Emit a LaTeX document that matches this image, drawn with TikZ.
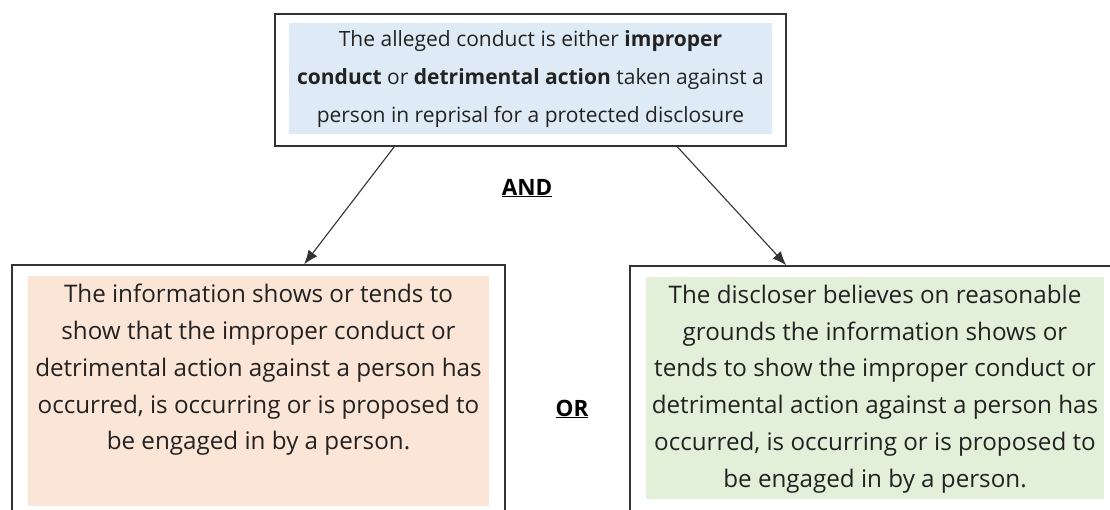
\documentclass[tikz,border=0pt]{standalone}
\usepackage{fontspec}
\setmainfont{Open Sans}
\usetikzlibrary{arrows.meta}
\definecolor{bluefill}{HTML}{DEEBF7}
\definecolor{redfill}{HTML}{FBE5D6}
\definecolor{greenfill}{HTML}{E2F0D9}
\definecolor{txt}{HTML}{222222}
\definecolor{edge}{HTML}{333333}
\tikzset{
  outerbox/.style={draw=edge, line width=1.5pt, fill=white, inner sep=0pt},
  fillbox/.style={inner sep=0pt, draw=none},
  bodytext/.style={inner sep=0pt, align=center, text=txt, font=\fontsize{24.2}{36.7}\selectfont},
  toptextstyle/.style={inner sep=0pt, align=center, text=txt, font=\fontsize{21}{38}\selectfont},
  conj/.style={inner sep=0pt, text=black, font=\fontsize{22.5}{24}\selectfont\bfseries},
  conn/.style={draw=edge, line width=1.1pt, -{Latex[length=14pt,width=11pt]}}
}
\begin{document}
\begin{tikzpicture}[x=1pt,y=-1pt]
\clip (0,0) rectangle (1110,510);
\fill[white] (0,0) rectangle (1110,510);
% top
\node[outerbox, minimum width=511pt, minimum height=132pt] (top) at (530.5,80) {};
\node[fillbox, fill=bluefill, minimum width=483pt, minimum height=111pt] (topfill) at (530.5,78.5) {};
\node[toptextstyle] (toptext) at (530.5,79) {The alleged conduct is either \textbf{improper}\\\textbf{conduct} or \textbf{detrimental action} taken against a\\person in reprisal for a protected disclosure};
% left
\node[outerbox, minimum width=493pt, minimum height=275pt] (left) at (258.5,402.5) {};
\node[fillbox, fill=redfill, minimum width=461pt, minimum height=230pt] (leftfill) at (258.5,391) {};
\node[bodytext] (lefttext) at (258.5,370) {The information shows or tends to\\show that the improper conduct or\\detrimental action against a person has\\occurred, is occurring or is proposed to\\be engaged in by a person.};
% right
\node[outerbox, minimum width=500pt, minimum height=274pt] (right) at (880,403) {};
\node[fillbox, fill=greenfill, minimum width=458pt, minimum height=222pt] (rightfill) at (875,388) {};
\node[bodytext] (righttext) at (875,389) {The discloser believes on reasonable\\grounds the information shows or\\tends to show the improper conduct or\\detrimental action against a person has\\occurred, is occurring or is proposed to\\be engaged in by a person.};
% conjunctions
\node[conj] (and) at (527,188) {\underline{AND}};
\node[conj] (or) at (572,409) {\underline{OR}};
% arrows
\draw[conn] ([xshift=120pt]top.south west) -- ([xshift=293pt]left.north west);
\draw[conn] ([xshift=403pt]top.south west) -- ([xshift=157pt]right.north west);
\end{tikzpicture}
\end{document}
